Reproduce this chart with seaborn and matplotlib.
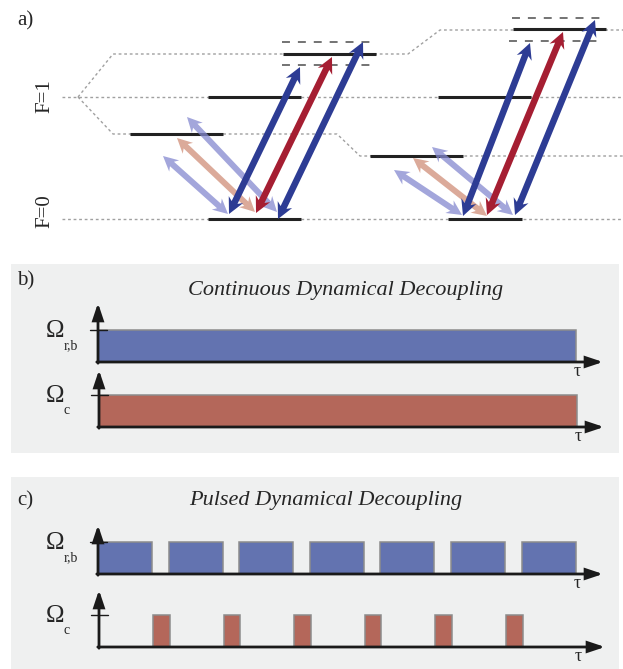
import numpy as np
import pandas as pd
import matplotlib
matplotlib.use("Agg")
import matplotlib.pyplot as plt
from matplotlib.patches import Rectangle
import seaborn as sns

sns.set_theme(style="white")
plt.rcParams['font.family'] = ['Liberation Serif', 'DejaVu Serif']

W, H = 623, 669

# ---- panel a: level scheme (diagram units = pixels of the sketch) ----
f1_row = 97
f0_row = 219
# Zeeman fan of F=1 (dotted guides)
upper_x = [78, 113, 408, 440, 623]
upper_y = [97, 54, 54, 30, 30]
lower_x = [78, 113, 337, 360, 623]
lower_y = [97, 134, 134, 156, 156]

# solid levels: (x start, x end, row)
levels_left = [(130, 223, 134), (208, 301, 97), (283, 376, 54), (208, 301, 219)]
levels_right = [(370, 463, 156), (438, 531, 97), (513, 606, 29), (448, 522, 219)]
# dressed (dashed) levels around m=+1
dressed_left = [(282, 373, 42), (282, 373, 65)]
dressed_right = [(512, 603, 18), (509, 602, 41)]

# transitions: (end A, end B)
light_left = [((163, 156), (228, 214)), ((187, 117), (277, 212))]
salmon_left = [((177, 138), (255, 212))]
blue_left = [((229, 214), (300, 67)), ((278, 219), (363, 42))]
red_left = [((256, 213), (332, 57))]
light_right = [((394, 170), (462, 215)), ((432, 147), (513, 215))]
salmon_right = [((413, 158), (487, 216))]
blue_right = [((463, 216), (530, 43)), ((515, 215), (595, 20))]
red_right = [((487, 215), (563, 32))]

# ---- panels b, c: drive sequences (time in pulse periods, amplitude 1) ----
cont_start = [0.0]
cont_len = [6.765]
rb_starts = [0.0, 1.0, 2.0, 3.0, 4.0, 5.0, 6.0]
rb_lens = [0.765, 0.765, 0.765, 0.765, 0.765, 0.765, 0.765]
c_starts = [0.765, 1.765, 2.765, 3.765, 4.765, 5.765]
c_lens = [0.235, 0.235, 0.235, 0.235, 0.235, 0.235]

BLUE = '#6373b0'
RED = '#b4675a'
DARK_BLUE = '#2d3c94'
DARK_RED = '#a51e32'
LAVENDER = '#8488d0'
SALMON = '#d08e78'
BG = '#eff0f0'

fig = plt.figure(figsize=(W / 100, H / 100), dpi=100)


def fx(x):
    return x / W


def fy(y):
    return 1 - y / H


def double_arrow(ax, p0, p1, color, shaft=6.5, head_w=16.0, head_len=16.0, alpha=1.0, z=3):
    p0 = np.array(p0, float)
    p1 = np.array(p1, float)
    d = p1 - p0
    u = d / np.hypot(*d)
    n = np.array([-u[1], u[0]])
    a_back = p0 + u * head_len
    a_join = p0 + u * head_len * 0.8
    b_back = p1 - u * head_len
    b_join = p1 - u * head_len * 0.8
    pts = [p0, a_back + n * head_w / 2, a_join + n * shaft / 2,
           b_join + n * shaft / 2, b_back + n * head_w / 2, p1,
           b_back - n * head_w / 2, b_join - n * shaft / 2,
           a_join - n * shaft / 2, a_back - n * head_w / 2]
    pts = np.array(pts)
    ax.fill(pts[:, 0], pts[:, 1], color=color, alpha=alpha, lw=0, zorder=z)


# panel a axes
ax = fig.add_axes([0, fy(245), 1, 245 / H])

guides = pd.DataFrame({
    'x': [62, 623] + [62, 623] + upper_x + lower_x,
    'y': [f1_row, f1_row] + [f0_row, f0_row] + upper_y + lower_y,
    'path': ['center'] * 2 + ['ground'] * 2 + ['upper'] * 5 + ['lower'] * 5,
})
for name, g in guides.groupby('path'):
    sns.lineplot(data=g, x='x', y='y', ax=ax, color='#a0a0a0', lw=1.0,
                 sort=False, estimator=None, zorder=1)
for line in ax.lines:
    line.set_dashes((2, 2))
ax.set_xlim(0, W)
ax.set_ylim(245, 0)
ax.axis('off')

for x0, x1, y in levels_left + levels_right:
    ax.plot([x0, x1], [y, y], color='#222222', lw=2.2, solid_capstyle='butt', zorder=2)
for x0, x1, y in dressed_left + dressed_right:
    ax.plot([x0, x1], [y, y], color='#4d4d4d', lw=1.1, dashes=(5.2, 5.2), zorder=2)

for p0, p1 in light_left + light_right:
    double_arrow(ax, p0, p1, LAVENDER, shaft=6.0, head_w=15, head_len=15, alpha=0.75, z=3)
for p0, p1 in salmon_left + salmon_right:
    double_arrow(ax, p0, p1, SALMON, shaft=6.0, head_w=15, head_len=15, alpha=0.75, z=3)
for p0, p1 in blue_left + blue_right:
    double_arrow(ax, p0, p1, DARK_BLUE, z=4)
for p0, p1 in red_left + red_right:
    double_arrow(ax, p0, p1, DARK_RED, z=4)

fig.text(fx(17), fy(25), 'a)', fontsize=15, ha='left', va='baseline')
fig.text(fx(45), fy(96), 'F=1', fontsize=15, rotation=90, ha='center', va='center')
fig.text(fx(45), fy(211), 'F=0', fontsize=15, rotation=90, ha='center', va='center')

# ---- panels b and c ----
for top, bottom in [(264, 453), (477, 669)]:
    fig.add_artist(Rectangle((fx(11), fy(bottom)), fx(619) - fx(11), (bottom - top) / H,
                             transform=fig.transFigure, facecolor=BG, edgecolor='none', zorder=-10))

fig.text(fx(17), fy(285), 'b)', fontsize=15, ha='left', va='baseline')
fig.text(fx(346), fy(295), 'Continuous Dynamical Decoupling', fontsize=16,
         style='italic', ha='center', va='baseline')
fig.text(fx(17), fy(505), 'c)', fontsize=15, ha='left', va='baseline')
fig.text(fx(326), fy(505), 'Pulsed Dynamical Decoupling', fontsize=16,
         style='italic', ha='center', va='baseline')

PX_T = 70.6   # pixels per period
PX_A = 32.0   # pixels per unit amplitude


def timeline(ox, oy, x_tip_px, y_tip_px, starts, lens, color, sub, sub_dy):
    left, right = 60, 618
    top, bottom = oy - 75, oy + 10
    tl = fig.add_axes([fx(left), fy(bottom), (right - left) / W, (bottom - top) / H])
    tl.set_xlim((left - ox) / PX_T, (right - ox) / PX_T)
    tl.set_ylim((oy - bottom) / PX_A, (oy - top) / PX_A)
    tl.axis('off')
    tl.bar(starts, [1.0] * len(starts), width=lens, align='edge', color=color,
           edgecolor='#8c8c8c', lw=1.1, zorder=2)
    arrow = dict(arrowstyle='-|>,head_length=0.75,head_width=0.25', color='#1a1a1a',
                 lw=2.0, shrinkA=0, shrinkB=0, mutation_scale=13, joinstyle='miter')
    tl.annotate('', xy=((x_tip_px - ox) / PX_T, 0), xytext=(-1.2 / PX_T, 0),
                arrowprops=arrow, zorder=5)
    tl.annotate('', xy=(0, (oy - y_tip_px) / PX_A), xytext=(0, -1.2 / PX_A),
                arrowprops=arrow, zorder=5)
    tl.plot([-8.5 / PX_T, 8.5 / PX_T], [1, 1], color='#1a1a1a', lw=1.0, zorder=5)
    # labels
    ty = oy - PX_A
    fig.text(fx(55), fy(ty + 7), '\u03a9', fontsize=18, ha='center', va='baseline')
    fig.text(fx(64), fy(ty + 7 + sub_dy), sub, fontsize=10, ha='left', va='baseline')
    fig.text(fx(ox + 478 + 1), fy(oy + 14), '\u03c4', fontsize=13, ha='center', va='baseline')
    return tl


timeline(98, 362, 603, 303, cont_start, cont_len, BLUE, 'r,b', 12)
timeline(99, 427, 604, 370, cont_start, cont_len, RED, 'c', 12)
timeline(98, 574, 603, 525, rb_starts, rb_lens, BLUE, 'r,b', 12)
timeline(99, 647, 605, 590, c_starts, c_lens, RED, 'c', 12)

fig.savefig('out.png', dpi=100)
